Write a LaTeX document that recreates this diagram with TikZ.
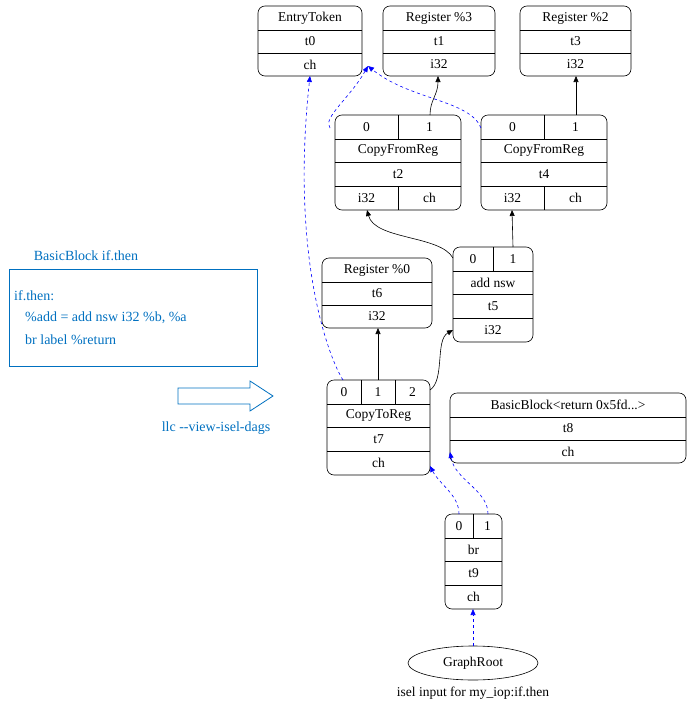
\documentclass[tikz,border=0pt]{standalone}
\usepackage{fontspec}
\setmainfont{Liberation Serif}
\usetikzlibrary{shapes.geometric,arrows.meta}
\definecolor{irblue}{HTML}{0070C0}
\begin{document}
\begin{tikzpicture}[x=1pt,y=-1pt,
  box/.style={draw,rounded corners=7pt,line width=0.6pt,inner sep=0pt},
  t/.style={font=\fontsize{13.5}{15}\selectfont,inner sep=0pt},
  bt/.style={font=\fontsize{14}{16}\selectfont,inner sep=0pt,text=irblue},
  sol/.style={-{Triangle[length=6pt,width=5pt]},line width=0.6pt},
  dsh/.style={-{Triangle[length=6pt,width=5pt]},blue,dashed,line width=0.6pt}]
\useasboundingbox (0,0) rectangle (695,715);
\newcommand\rb[5]{\node[box,minimum width=#4-#2,minimum height=#5-#3] (#1) at ({(#2+#4)/2},{(#3+#5)/2}) {};}
\newcommand\hl[3]{\draw[line width=0.6pt] (#1,#3) -- (#2,#3);}
\newcommand\vl[3]{\draw[line width=0.6pt] (#1,#2) -- (#1,#3);}
% EntryToken
\rb{et}{258}{6}{362}{76}\hl{258}{362}{30}\hl{258}{362}{53}
\node[t] (et1) at (310,18) {EntryToken};\node[t] (et2) at (310,41.5) {t0};\node[t] (et3) at (310,64.5) {ch};
% Register %3
\rb{r3}{383}{6}{495}{76}\hl{383}{495}{30}\hl{383}{495}{53}
\node[t] (r31) at (439,18) {Register \%3};\node[t] (r32) at (439,41.5) {t1};\node[t] (r33) at (439,64.5) {i32};
% Register %2
\rb{r2}{520}{6}{631}{76}\hl{520}{631}{30}\hl{520}{631}{53}
\node[t] (r21) at (575.5,18) {Register \%2};\node[t] (r22) at (575.5,41.5) {t3};\node[t] (r23) at (575.5,64.5) {i32};
% CopyFromReg t2
\rb{c2}{335}{115}{461}{210}\hl{335}{461}{139}\hl{335}{461}{162}\hl{335}{461}{186}\vl{398}{115}{139}\vl{398}{186}{210}
\node[t] (c2a) at (366.5,127) {0};\node[t] (c2b) at (429.5,127) {1};
\node[t] (c2c) at (398,150.5) {CopyFromReg};\node[t] (c2d) at (398,174) {t2};
\node[t] (c2e) at (366.5,198) {i32};\node[t] (c2f) at (429.5,198) {ch};
% CopyFromReg t4
\rb{c4}{481}{115}{607}{210}\hl{481}{607}{139}\hl{481}{607}{162}\hl{481}{607}{186}\vl{544}{115}{139}\vl{544}{186}{210}
\node[t] (c4a) at (512.5,127) {0};\node[t] (c4b) at (575.5,127) {1};
\node[t] (c4c) at (544,150.5) {CopyFromReg};\node[t] (c4d) at (544,174) {t4};
\node[t] (c4e) at (512.5,198) {i32};\node[t] (c4f) at (575.5,198) {ch};
% add nsw
\rb{ad}{453}{247}{533}{342}\hl{453}{533}{271}\hl{453}{533}{294}\hl{453}{533}{318}\vl{493}{247}{271}
\node[t] (ada) at (473,259) {0};\node[t] (adb) at (513,259) {1};
\node[t] (adc) at (493,282.5) {add nsw};\node[t] (add) at (493,306) {t5};\node[t] (ade) at (493,330) {i32};
% Register %0
\rb{r0}{322}{258}{432}{328}\hl{322}{432}{282}\hl{322}{432}{305}
\node[t] (r01) at (377,270) {Register \%0};\node[t] (r02) at (377,293.5) {t6};\node[t] (r03) at (377,316.5) {i32};
% CopyToReg
\rb{ct}{327}{380}{430}{475}\hl{327}{430}{404}\hl{327}{430}{427}\hl{327}{430}{451}\vl{361}{380}{404}\vl{395}{380}{404}
\node[t] (cta) at (344,392) {0};\node[t] (ctb) at (378,392) {1};\node[t] (ctc) at (412.5,392) {2};
\node[t] (ctd) at (378.5,415.5) {CopyToReg};\node[t] (cte) at (378.5,439) {t7};\node[t] (ctf) at (378.5,463) {ch};
% BasicBlock return
\rb{bb}{450}{393}{686}{463}\hl{450}{686}{417}\hl{450}{686}{440}
\node[t] (bb1) at (568,405) {BasicBlock<return 0x5fd...>};\node[t] (bb2) at (568,428.5) {t8};\node[t] (bb3) at (568,451.5) {ch};
% br
\rb{br}{445}{514}{502}{609}\hl{445}{502}{538}\hl{445}{502}{561}\hl{445}{502}{585}\vl{473}{514}{538}
\node[t] (bra) at (459,526) {0};\node[t] (brb) at (487.5,526) {1};
\node[t] (brc) at (473.5,549.5) {br};\node[t] (brd) at (473.5,573) {t9};\node[t] (bre) at (473.5,597) {ch};
% GraphRoot
\node[draw,ellipse,minimum width=130,minimum height=34,t,line width=0.6pt] (gr) at (473,663) {GraphRoot};
\node[t] (cap) at (473,693) {isel input for my\_iop:if.then};
% left panel
\node[bt] (bbt) at (86,256) {BasicBlock if.then};
\node[draw=irblue,minimum width=248,minimum height=97,inner sep=0pt,line width=0.6pt] (ir) at (133,317.5) {};
\node[bt,anchor=west] (ir1) at (14,296) {if.then:};
\node[bt,anchor=west] (ir2) at (25,318) {\%add = add nsw i32 \%b, \%a};
\node[bt,anchor=west] (ir3) at (25,340) {br label \%return};
\draw[irblue,line width=0.8pt] (178,388) -- (250,388) -- (250,381) -- (273,396) -- (250,411) -- (250,404) -- (178,404) -- cycle;
\node[bt] (llc) at (216,428) {llc -{}-view-isel-dags};
% coordinates for ports
\coordinate (p_c2_1) at (430,115);
\coordinate (p_c2_0) at (330,128);
\coordinate (p_c4_0) at (481,128);
\coordinate (p_c4_1) at (576,115);
\coordinate (etch) at (368,66);
\coordinate (etb) at (310,76);
\coordinate (p_ad_0) at (453,258);
\coordinate (p_ad_1) at (513,247);
\coordinate (c2i) at (367,210);
\coordinate (c4i) at (512,210);
\coordinate (p_ct_0) at (343,380);
\coordinate (p_ct_1) at (378,380);
\coordinate (p_ct_2) at (430,390);
\coordinate (adi) at (453,330);
\coordinate (p_br_0) at (459,514);
\coordinate (p_br_1) at (488,514);
\coordinate (ctch) at (430,466);
\coordinate (bbch) at (450,452);
\coordinate (grt) at (473,646);
\coordinate (brb2) at (473,609);
% edges
\draw[sol] (p_c2_1) .. controls (430,100) and (438,95) .. (438,76);
\draw[sol] (p_c4_1) -- (576,76);
\draw[dsh] (p_c2_0) .. controls (322,118) and (350,98) .. (etch);
\draw[dsh] (p_c4_0) .. controls (470,100) and (410,100) .. (etch);
\draw[sol] (p_ad_0) .. controls (440,235) and (375,240) .. (c2i);
\draw[sol] (p_ad_1) -- (c4i);
\draw[dsh] (p_ct_0) .. controls (330,360) and (290,260) .. (etb);
\draw[sol] (p_ct_1) -- (378,328);
\draw[sol] (p_ct_2) .. controls (445,380) and (435,340) .. (adi);
\draw[dsh] (p_br_0) .. controls (459,495) and (440,485) .. (ctch);
\draw[dsh] (p_br_1) .. controls (488,490) and (455,480) .. (bbch);
\draw[dsh] (grt) -- (brb2);
\end{tikzpicture}
\end{document}
